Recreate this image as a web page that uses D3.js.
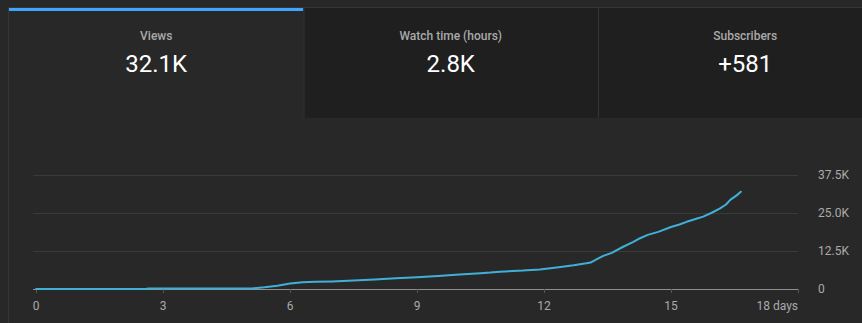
<!DOCTYPE html>
<html>
<head>
<meta charset="utf-8">
<script src="https://cdn.jsdelivr.net/npm/d3@7"></script>
<style>
  html, body { margin: 0; padding: 0; background: #282828; }
  svg { display: block; font-family: Roboto, "Noto Sans", sans-serif; }
</style>
</head>
<body>
<svg id="chart" width="862" height="323"></svg>
<script>
// ---- data ----
const cardLabels = ["Views", "Watch time (hours)", "Subscribers"];
const cardValues = ["32.1K", "2.8K", "+581"];
const selectedCard = 0;

const days = [0, 2.6, 2.65, 5.1, 5.4, 5.7, 6.0, 6.3, 6.6, 7.0, 7.5, 8.0, 8.5, 9.0, 9.5, 10.0, 10.5, 10.73, 10.96, 11.5, 11.9, 12.3, 12.7, 13.0, 13.1, 13.25, 13.4, 13.6, 13.87, 14.1, 14.27, 14.45, 14.7, 15.0, 15.2, 15.37, 15.6, 15.76, 15.95, 16.16, 16.3, 16.4, 16.55, 16.65];
const views = [0, 0, 150, 200, 600, 1100, 1800, 2200, 2350, 2500, 2800, 3100, 3500, 3850, 4300, 4800, 5200, 5400, 5700, 6050, 6450, 7100, 7800, 8450, 8700, 9800, 10900, 11900, 13900, 15400, 16700, 17800, 18800, 20400, 21200, 22100, 23100, 23800, 25000, 26500, 27800, 29300, 30800, 32000];

const xTicks = [0, 3, 6, 9, 12, 15, 18];
const xTickLabels = ["0", "3", "6", "9", "12", "15", "18 days"];
const yTicks = [0, 12500, 25000, 37500];
const yTickLabels = ["0", "12.5K", "25.0K", "37.5K"];

// ---- layout ----
const svg = d3.select("#chart");
const W = 862, H = 323;
const cardTop = 8, cardBottom = 118, cardLeft = 9, cardW = 294.5;

// page border lines
svg.append("rect").attr("x", 0).attr("y", 0).attr("width", W).attr("height", H).attr("fill", "#282828");
svg.append("line").attr("x1", 8.5).attr("x2", 8.5).attr("y1", 7).attr("y2", H).attr("stroke", "#363636");
svg.append("line").attr("x1", 8).attr("x2", W).attr("y1", 7.5).attr("y2", 7.5).attr("stroke", "#363636");

// cards
const cards = svg.append("g");
cardLabels.forEach((lab, i) => {
  const x0 = cardLeft + i * cardW;
  const g = cards.append("g");
  g.append("rect").attr("x", x0).attr("y", cardTop).attr("width", cardW).attr("height", cardBottom - cardTop)
    .attr("fill", i === selectedCard ? "#282828" : "#1f1f1f");
  if (i > 0) {
    g.append("line").attr("x1", x0 + 0.5).attr("x2", x0 + 0.5).attr("y1", cardTop).attr("y2", cardBottom)
      .attr("stroke", "#343434");
  }
  if (i === selectedCard) {
    g.append("rect").attr("x", x0).attr("y", cardTop).attr("width", cardW).attr("height", 3).attr("fill", "#3ea6ff");
  }
  g.append("text").attr("x", x0 + cardW / 2).attr("y", 40).attr("text-anchor", "middle")
    .attr("fill", "#aaaaaa").attr("font-size", 12).attr("font-weight", 500).text(lab);
  g.append("text").attr("x", x0 + cardW / 2).attr("y", 72).attr("text-anchor", "middle")
    .attr("fill", "#ffffff").attr("font-size", 24).text(cardValues[i]);
});

// scales
const x = d3.scaleLinear().domain([0, 18]).range([36, 798]);
const y = d3.scaleLinear().domain([0, 37500]).range([289, 175]);
const gridLeft = 33, gridRight = 798;

// gridlines
svg.append("g").selectAll("line").data(yTicks.filter(d => d > 0)).join("line")
  .attr("x1", gridLeft).attr("x2", gridRight)
  .attr("y1", d => Math.round(y(d)) + 0.5).attr("y2", d => Math.round(y(d)) + 0.5)
  .attr("stroke", "#3a3a3a").attr("stroke-width", 1);

// y labels
svg.append("g").selectAll("text").data(yTicks).join("text")
  .attr("x", 818).attr("y", d => y(d)).attr("dy", "0.35em")
  .attr("fill", "#aaaaaa").attr("font-size", 12).text((d, i) => yTickLabels[i]);

// x axis
svg.append("line").attr("x1", gridLeft).attr("x2", gridRight)
  .attr("y1", y(0) + 0.5).attr("y2", y(0) + 0.5).attr("stroke", "#8f8f8f");
svg.append("g").selectAll("line").data(xTicks).join("line")
  .attr("x1", d => Math.round(x(d)) + 0.5).attr("x2", d => Math.round(x(d)) + 0.5)
  .attr("y1", y(0)).attr("y2", y(0) + 4).attr("stroke", "#555555");
svg.append("g").selectAll("text").data(xTicks).join("text")
  .attr("x", d => x(d)).attr("y", 310)
  .attr("text-anchor", (d, i) => i === xTicks.length - 1 ? "end" : "middle")
  .attr("fill", "#aaaaaa").attr("font-size", 12).text((d, i) => xTickLabels[i]);

// line
const line = d3.line().x((d, i) => x(days[i])).y(d => y(d));
svg.append("path").datum(views).attr("d", line)
  .attr("fill", "none").attr("stroke", "#41b0d8").attr("stroke-width", 2)
  .attr("stroke-linejoin", "round").attr("stroke-linecap", "round");
</script>
</body>
</html>
